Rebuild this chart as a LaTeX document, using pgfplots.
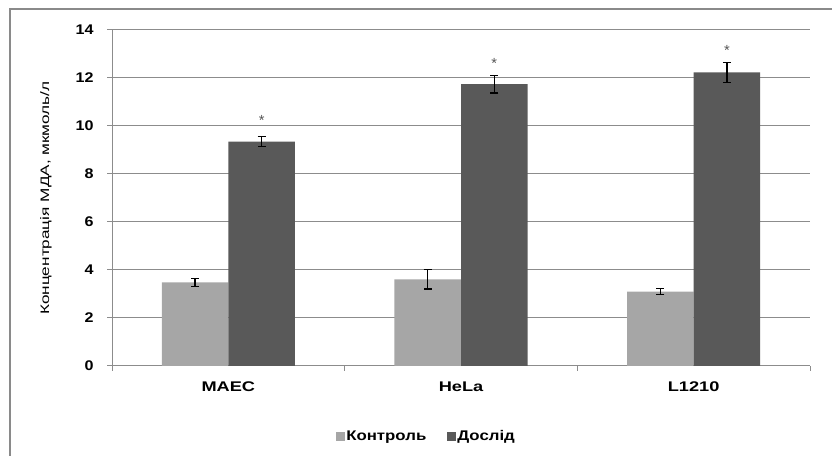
\documentclass[border=0pt]{standalone}
\usepackage{fontspec}
\setmainfont{Liberation Sans}
\usepackage{graphicx}
\usepackage{pgfplots}
\pgfplotsset{compat=1.18}
\definecolor{ctrl}{HTML}{A6A6A6}
\definecolor{dosl}{HTML}{595959}
\definecolor{gridc}{HTML}{8C8C8C}
\definecolor{framec}{HTML}{8A8A8A}
\definecolor{starc}{HTML}{555555}
\begin{document}
\begin{tikzpicture}
\path[use as bounding box] (0,0) rectangle (624pt,342pt);
\draw[framec, line width=1.5pt] (7.5pt,0) -- (7.5pt,335.25pt) -- (624pt,335.25pt);
\begin{axis}[
  ybar,
  at={(84pt,67.5pt)}, anchor=south west,
  scale only axis, width=523.5pt, height=252pt,
  xmin=-0.5, xmax=2.5, ymin=0, ymax=14,
  ytick={0,2,...,14},
  xtick={0,1,2},
  xticklabels={\scalebox{1.3}[1]{MAEC},\scalebox{1.3}[1]{HeLa},\scalebox{1.3}[1]{L1210}},
  minor xtick={-0.5,0.5,1.5,2.5},
  major x tick style={draw=none},
  tick align=outside, tick pos=left,
  major tick length=3.75pt, minor tick length=3.75pt,
  axis lines*=left,
  axis line style={gridc, line width=0.75pt},
  every tick/.style={gridc, line width=0.75pt},
  minor tick style={gridc, line width=0.75pt},
  ymajorgrids, grid style={gridc, line width=0.75pt},
  /pgf/number format/assume math mode=true,
  yticklabel={\scalebox{1.15}[1]{\pgfmathprintnumber{\tick}}},
  ticklabel style={font=\fontsize{10.5}{12}\selectfont\bfseries, text=black},
  yticklabel style={xshift=-6.5pt},
  xticklabel style={anchor=center, yshift=-12pt},
  ylabel={\scalebox{1.4}[1]{Концентрація МДА, мкмоль/л}},
  ylabel style={at={(axis description cs:-0.0946,0.5)}, anchor=center, rotate=0, font=\fontsize{9.2}{11}\selectfont},
  legend columns=2,
  legend style={at={(axis description cs:0.45,-0.211)}, anchor=center, draw=none, fill=none,
    font=\fontsize{10.5}{12}\selectfont\bfseries,
    /tikz/every even column/.append style={column sep=15pt},
    nodes={inner sep=0.75pt}},
  legend image code/.code={\fill[#1, draw=none] (0pt,-3.375pt) rectangle (6.75pt,3.375pt);},
  clip=false,
]
\addplot[bar width=0.286, bar shift=-0.143, fill=ctrl, draw=none,
  error bars/.cd, y dir=both, y explicit,
  error bar style={black, line width=1.1pt},
  error mark options={rotate=90, black, mark size=3pt, line width=1.1pt}]
  coordinates {(0,3.48) +- (0,0.17) (1,3.61) +- (0,0.40) (2,3.10) +- (0,0.12)};
\addlegendentry{\scalebox{1.2}[1]{Контроль}}
\addplot[bar width=0.286, bar shift=0.143, fill=dosl, draw=none,
  error bars/.cd, y dir=both, y explicit,
  error bar style={black, line width=1.1pt},
  error mark options={rotate=90, black, mark size=3pt, line width=1.1pt}]
  coordinates {(0,9.35) +- (0,0.21) (1,11.74) +- (0,0.37) (2,12.23) +- (0,0.41)};
\addlegendentry{\scalebox{1.2}[1]{Дослід}}
\node[starc, font=\fontsize{11}{12}\selectfont, yshift=-2pt] at (axis cs:0.143,10.33) {*};
\node[starc, font=\fontsize{11}{12}\selectfont, yshift=-2pt] at (axis cs:1.143,12.72) {*};
\node[starc, font=\fontsize{11}{12}\selectfont, yshift=-2pt] at (axis cs:2.143,13.24) {*};
\end{axis}
\end{tikzpicture}
\end{document}
